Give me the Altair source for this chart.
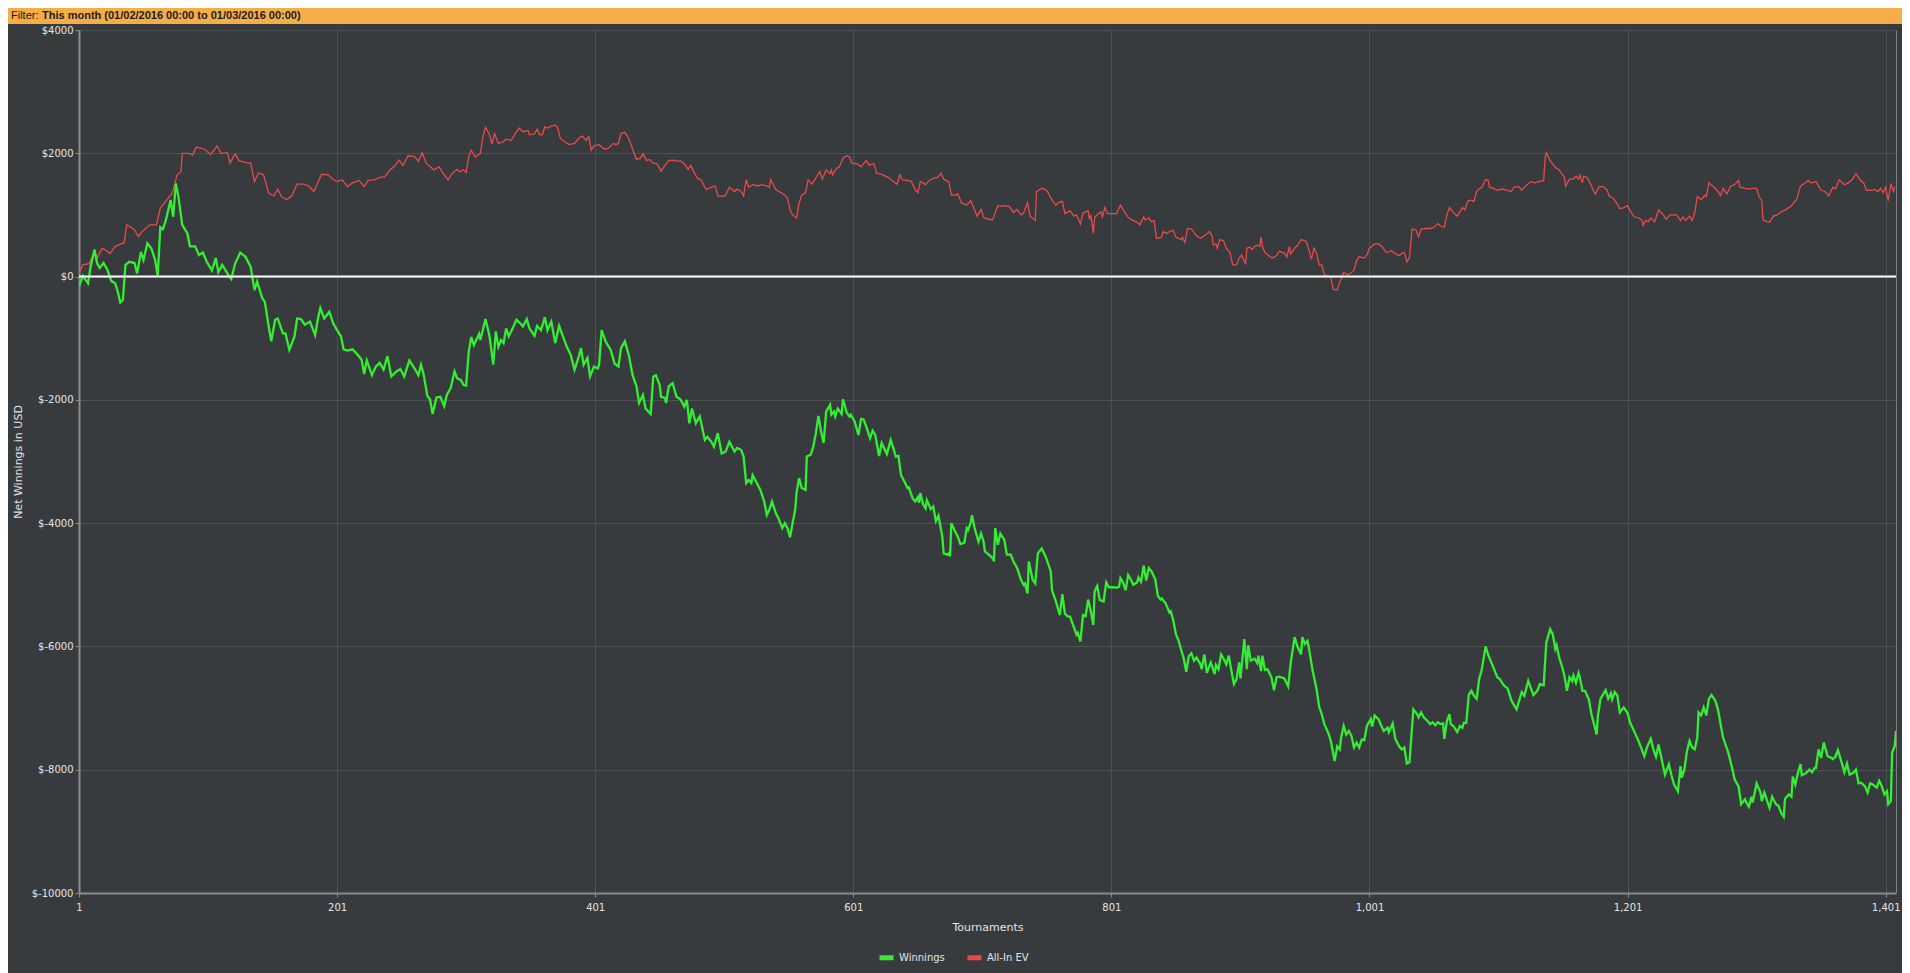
import altair as alt
import pandas as pd

# ---------------- data ----------------
series_names = ["Winnings", "All-In EV"]
series_colors = ["#33ee33", "#e84a4a"]

x_ticks = [1, 201, 401, 601, 801, 1001, 1201, 1401]
y_ticks = [-10000, -8000, -6000, -4000, -2000, 0, 2000, 4000]
x_domain = [1, 1409]
y_domain = [-10000, 4000]

banner_label = "Filter:"
banner_text = "This month (01/02/2016 00:00 to 01/03/2016 00:00)"

win_t = [1, 4, 8, 10, 13, 15, 17, 20, 23, 26, 29, 31, 33, 35, 37, 40, 44, 46, 49, 51, 54, 57, 60, 62, 64, 66, 68, 72, 74, 76, 78, 81, 85, 87, 91, 94, 97, 100, 104, 107, 109, 112, 116, 119, 122, 126, 130, 134, 137, 139, 143, 145, 148, 150, 153, 155, 159, 161, 164, 168, 170, 173, 176, 180, 184, 186, 188, 191, 195, 198, 201, 204, 206, 209, 213, 217, 220, 222, 224, 228, 231, 234, 237, 240, 243, 247, 250, 253, 257, 261, 264, 266, 268, 271, 273, 275, 278, 281, 284, 286, 289,
         292, 294, 297, 299, 301, 303, 305, 307, 311, 312, 316, 319, 322, 324, 326, 328, 330, 332, 334, 337, 340, 343, 345, 348, 350, 354, 356, 359, 362, 364, 367, 370, 373, 379, 382, 385, 388, 390, 392, 395, 397, 400, 403, 404, 406, 409, 413, 416, 419, 421, 424, 427, 430, 433, 435, 438, 440, 444, 446, 448, 451, 452, 455, 456, 458, 461, 464, 467, 470, 472, 474, 476, 479, 482, 486, 488, 491, 493, 496, 499, 502, 505, 509, 511, 514, 516, 518, 520, 522, 523, 527, 529, 532, 534, 536, 538, 541, 543, 546, 548, 550, 552, 554, 556, 557, 559, 561, 564, 565, 568, 570, 572, 574, 576, 578,
         580, 583, 584, 586, 587, 589, 592, 593, 596, 598, 599, 602, 605, 607, 609, 611, 614, 616, 618, 621, 623, 627, 630, 634, 636, 638, 640, 643, 644, 647, 649, 651, 652, 653, 655, 657, 658, 661, 663, 665, 667, 670, 671, 674, 675, 676, 677, 680, 682, 684, 687, 689, 690, 692, 693, 695, 698, 700, 702, 703, 706, 709, 710, 711, 713, 715, 718, 720, 723, 725, 728, 731, 733, 734, 736, 737, 740, 742, 744, 747, 750, 754, 755, 758, 761, 763, 765, 767, 769, 772, 774, 775, 777, 779, 781, 783, 785, 787, 788, 790, 792, 795, 797, 799, 803, 805, 807, 808, 810, 812, 814, 816, 818, 821, 822, 824, 826, 828, 830, 832, 835, 837, 839, 840, 843, 846, 847, 849, 851, 853, 855, 857,
         859, 861, 863, 865, 867, 870, 871, 873, 875, 878, 881, 882, 884, 886, 888, 890, 892, 894, 896, 898, 900, 901, 904, 906, 907, 909, 912, 914, 915, 917, 918, 920, 922, 925, 927, 929, 931, 935, 938, 940, 943, 945, 948, 949, 951, 953, 954, 957, 960, 962, 964, 966, 969, 971, 974, 976, 978, 979, 981, 983, 985, 987, 989, 991, 993, 995, 997, 999, 1002, 1003, 1005, 1008, 1010, 1012, 1015, 1016, 1019, 1021, 1024, 1026, 1028, 1030, 1032, 1035, 1038, 1039, 1041, 1043, 1046, 1048, 1050, 1052, 1054, 1056, 1058, 1059, 1061, 1063, 1064, 1066, 1069, 1071, 1073, 1074, 1076, 1078, 1080, 1082, 1084, 1086, 1088, 1091, 1093, 1097, 1100, 1102, 1105, 1108, 1111, 1115, 1117, 1119, 1121, 1124, 1128, 1131, 1133, 1136, 1138, 1141, 1143,
         1145, 1146, 1148, 1150, 1152, 1154, 1156, 1158, 1159, 1161, 1163, 1164, 1166, 1168, 1171, 1173, 1176, 1177, 1178, 1180, 1182, 1184, 1186, 1188, 1189, 1191, 1193, 1195, 1198, 1201, 1203, 1206, 1210, 1214, 1216, 1219, 1221, 1223, 1225, 1228, 1230, 1233, 1235, 1237, 1240, 1242, 1243, 1245, 1247, 1249, 1251, 1253, 1255, 1256, 1258, 1260, 1262, 1264, 1266, 1269, 1271, 1275, 1279, 1282, 1284, 1287, 1289, 1292, 1293, 1295, 1297, 1298, 1301, 1304, 1305, 1307, 1310, 1311, 1313, 1316, 1318, 1320, 1322, 1323, 1326, 1328, 1329, 1331, 1333, 1335, 1336, 1339, 1342, 1344, 1346, 1347, 1349, 1351, 1353, 1356, 1359, 1360, 1362, 1364, 1366, 1369, 1371, 1373, 1376, 1378, 1380, 1382, 1385, 1387, 1389, 1391, 1394, 1396, 1398, 1400, 1402, 1403, 1405, 1406, 1408, 1409]

win_v = [-160, 10, -110, 160, 440, 220, 140, 220, 110, -70, -110, -240, -420, -380, 190, 240, 220, 50, 400, 270, 540, 460, 270, 10, 800, 770, 890, 1240, 970, 1510, 1300, 840, 700, 490, 490, 350, 390, 240, 100, 300, 70, 190, 50, -40, 210, 390, 320, 160, -220, -80, -350, -410, -810, -1050, -700, -680, -920, -920, -1190, -970, -680, -690, -780, -730, -950, -700, -510, -680, -570, -760, -870, -970, -1180, -1200, -1180, -1270, -1350, -1580, -1360, -1600, -1460, -1400, -1510, -1290, -1620, -1540, -1500, -1620, -1360, -1490, -1600, -1430, -1580, -1940, -1990, -2230, -1960, -1950, -2100, -1920, -1810,
         -1540, -1650, -1680, -1760, -1770, -1220, -980, -1110, -930, -1030, -690, -950, -1430, -890, -1140, -1030, -1080, -840, -970, -840, -700, -760, -810, -690, -840, -960, -800, -870, -660, -870, -730, -1080, -800, -1140, -1270, -1510, -1320, -1160, -1430, -1320, -1620, -1460, -1490, -1430, -870, -1050, -1190, -1410, -1460, -1160, -1050, -1270, -1600, -1780, -2050, -1920, -2140, -2230, -1620, -1600, -1760, -1950, -1970, -2050, -1780, -1730, -1950, -1990, -2110, -2000, -2380, -2140, -2380, -2270, -2650, -2600, -2680, -2760, -2540, -2870, -2840, -2680, -2840, -2780, -2810, -2920, -3350, -3300, -3350, -3220, -3380, -3460, -3650, -3870, -3780, -3650, -3840, -3920, -4080, -4000, -4080, -4230, -4000, -3780, -3510, -3270, -3430, -3460, -2920, -2890, -2760, -2540, -2260, -2510, -2700,
         -2190, -2080, -2240, -2190, -2270, -2140, -2230, -1990, -2210, -2270, -2240, -2350, -2570, -2310, -2320, -2430, -2620, -2500, -2570, -2910, -2700, -2880, -2650, -2920, -2910, -3220, -3300, -3430, -3420, -3600, -3650, -3580, -3670, -3510, -3690, -3760, -3630, -3770, -3730, -3970, -3880, -4220, -4490, -4510, -4490, -4540, -4000, -4140, -4220, -4340, -4320, -4080, -4110, -3990, -3870, -4080, -4300, -4170, -4300, -4460, -4510, -4570, -4620, -4080, -4350, -4170, -4270, -4510, -4510, -4620, -4730, -4920, -5000, -4980, -5140, -4620, -4920, -4980, -4490, -4410, -4540, -4780, -5090, -5270, -5490, -5150, -5470, -5510, -5520, -5690, -5810, -5780, -5920, -5490, -5510, -5240, -5430, -5650, -5110, -5020, -5250, -5270, -4960, -5040, -5040, -5050, -5030, -4890, -4960, -5090, -4840, -4910, -5000, -4960, -4880, -4950, -4690, -4930, -4730, -4780, -4910, -5180, -5240, -5220, -5300, -5450, -5430, -5580, -5800, -5900, -6050, -6190,
         -6410, -6160, -6110, -6230, -6180, -6290, -6370, -6130, -6430, -6260, -6450, -6300, -6370, -6130, -6200, -6290, -6150, -6400, -6610, -6530, -6260, -6520, -5880, -6370, -5980, -6230, -6200, -6270, -6150, -6400, -6150, -6380, -6370, -6500, -6710, -6500, -6490, -6520, -6650, -6260, -5850, -5990, -6130, -5850, -5960, -5910, -6020, -6400, -6690, -6980, -7100, -7260, -7400, -7530, -7860, -7620, -7670, -7480, -7290, -7430, -7370, -7450, -7640, -7560, -7640, -7510, -7520, -7290, -7180, -7300, -7120, -7180, -7280, -7370, -7320, -7390, -7250, -7500, -7620, -7670, -7640, -7900, -7880, -7020, -7100, -7150, -7070, -7150, -7210, -7260, -7230, -7280, -7230, -7260, -7250, -7500, -7210, -7100, -7260, -7290, -7390, -7290, -7320, -7240, -7240, -6780, -6720, -6800, -6850, -6530, -6380, -6000, -6140, -6340, -6500, -6530, -6630, -6680, -6880, -7020, -6880, -6740, -6800, -6560, -6790, -6720, -6610, -6630, -5940, -5720, -5800,
         -6040, -5980, -6180, -6310, -6470, -6720, -6500, -6560, -6470, -6590, -6430, -6500, -6720, -6720, -6860, -7100, -7340, -7430, -7130, -6850, -6780, -6710, -6850, -6760, -6860, -6740, -6790, -7070, -6990, -7080, -7240, -7370, -7560, -7780, -7640, -7500, -7670, -7790, -7590, -7890, -8080, -7910, -8090, -8240, -8350, -7940, -8130, -8000, -7700, -7530, -7640, -7670, -7480, -7070, -7120, -6990, -7120, -6850, -6790, -6880, -7020, -7480, -7720, -7970, -8160, -8270, -8560, -8480, -8530, -8600, -8440, -8530, -8220, -8370, -8510, -8370, -8560, -8620, -8440, -8560, -8590, -8700, -8760, -8470, -8400, -8440, -8110, -8240, -8050, -7910, -8090, -8060, -8000, -8040, -7970, -7970, -7670, -7810, -7560, -7780, -7810, -7830, -7790, -7680, -7820, -8040, -7900, -8080, -8050, -8000, -8220, -8210, -8270, -8370, -8220, -8240, -8290, -8180, -8270, -8400, -8350, -8560, -8510, -7720, -7620, -7370]

ev_t = [1, 4, 9, 13, 15, 19, 23, 25, 29, 36, 38, 44, 47, 50, 56, 61, 64, 69, 73, 74, 77, 80, 81, 86, 89, 92, 98, 103, 108, 111, 116, 118, 122, 125, 130, 134, 137, 140, 144, 148, 152, 155, 158, 162, 166, 170, 175, 179, 183, 189, 194, 198, 201, 205, 209, 213, 218, 222, 225, 230, 234, 238, 242, 246, 249, 252, 256, 261, 264, 267, 270, 276, 280, 284,
        287, 290, 294, 296, 299, 301, 303, 305, 308, 312, 314, 316, 319, 321, 323, 326, 330, 332, 336, 339, 342, 345, 349, 350, 354, 356, 358, 360, 362, 364, 367, 370, 372, 374, 377, 381, 385, 389, 391, 394, 396, 398, 400, 404, 408, 411, 415, 417, 419, 421, 424, 427, 430, 433, 436, 438, 441, 443, 446, 449, 452, 455, 458, 461, 465, 467, 470, 473, 475, 480, 483, 487, 491, 494, 496, 500, 502, 505, 509, 511, 514, 516, 518, 520, 523, 527, 530, 534, 536, 537, 541, 545, 548, 550, 552, 554, 557, 559, 561, 564, 566, 569,
        572, 575, 577, 580, 583, 584, 585, 588, 590, 593, 596, 598, 600, 604, 607, 611, 613, 617, 619, 624, 628, 631, 635, 637, 639, 643, 646, 649, 651, 653, 655, 657, 660, 664, 666, 669, 671, 675, 677, 680, 682, 685, 689, 692, 695, 697, 700, 702, 706, 709, 711, 713, 715, 718, 722, 725, 728, 731, 733, 736, 738, 742, 743, 747, 750, 752, 755, 758, 760, 763, 765, 769, 772, 774, 777, 779, 781, 783, 784, 785, 787, 788, 791, 793, 794, 796, 798, 801, 805, 808, 810, 814, 817, 821, 823, 826, 827, 830, 832, 834, 836, 840, 841, 844, 846, 849, 851, 855, 856,
        858, 860, 863, 867, 870, 873, 877, 879, 880, 882, 883, 885, 888, 890, 893, 895, 898, 900, 902, 904, 905, 906, 908, 910, 912, 914, 916, 917, 918, 920, 924, 926, 929, 931, 935, 937, 939, 940, 943, 945, 948, 952, 954, 956, 958, 960, 962, 964, 966, 970, 971, 973, 976, 978, 979, 981, 984, 986, 989, 991, 993, 997, 999, 1001, 1005, 1008, 1011, 1014, 1018, 1021, 1024, 1027, 1028, 1030, 1032, 1034, 1037, 1039, 1041, 1045, 1048, 1051, 1054, 1056, 1059, 1061, 1063, 1066, 1069, 1071, 1073, 1075, 1077, 1080, 1082, 1084, 1086, 1088, 1091, 1093, 1094, 1097, 1100, 1104, 1108, 1111, 1113, 1117, 1119, 1122, 1126, 1129, 1132, 1136, 1137, 1138, 1141,
        1145, 1148, 1152, 1153, 1156, 1159, 1161, 1163, 1164, 1166, 1167, 1170, 1172, 1176, 1179, 1182, 1185, 1187, 1190, 1193, 1195, 1198, 1201, 1203, 1206, 1210, 1212, 1213, 1215, 1217, 1219, 1221, 1222, 1225, 1228, 1231, 1234, 1239, 1242, 1244, 1246, 1249, 1251, 1253, 1255, 1258, 1261, 1262, 1264, 1268, 1271, 1273, 1275, 1278, 1281, 1284, 1287, 1288, 1292, 1295, 1298, 1301, 1303, 1305, 1306, 1309, 1311, 1314, 1317, 1320, 1324, 1328, 1332, 1335, 1338, 1341, 1343, 1347, 1351, 1354, 1357, 1360, 1362, 1365, 1369, 1372, 1375, 1378, 1381, 1384, 1386, 1389, 1393, 1395, 1397, 1399, 1401, 1403, 1405, 1407, 1408]

ev_v = [50, 190, 210, 410, 300, 460, 410, 370, 490, 550, 840, 760, 650, 730, 840, 840, 1110, 1240, 1350, 1410, 1650, 1700, 2000, 2000, 1970, 2100, 2070, 1980, 2120, 2000, 2010, 1840, 1990, 1880, 1850, 1840, 1540, 1680, 1650, 1350, 1310, 1420, 1290, 1250, 1310, 1500, 1500, 1470, 1380, 1660, 1650, 1570, 1540, 1570, 1460, 1520, 1560, 1460, 1560, 1570, 1610, 1620, 1730, 1800, 1890, 1800, 1960, 1950, 1870, 2010, 1840, 1730, 1780, 1650,
        1570, 1670, 1740, 1700, 1730, 1690, 1950, 2050, 1940, 2000, 2270, 2420, 2310, 2150, 2320, 2160, 2190, 2230, 2210, 2320, 2410, 2350, 2370, 2300, 2320, 2390, 2300, 2300, 2430, 2410, 2440, 2460, 2410, 2240, 2190, 2140, 2160, 2260, 2280, 2210, 2270, 2050, 2120, 2140, 2070, 2080, 2160, 2140, 2160, 2320, 2340, 2240, 2070, 1900, 1920, 1990, 1880, 1900, 1840, 1830, 1710, 1800, 1880, 1890, 1870, 1880, 1830, 1740, 1800, 1600, 1570, 1410, 1450, 1470, 1310, 1300, 1320, 1450, 1380, 1420, 1380, 1310, 1570, 1450, 1490, 1470, 1490, 1470, 1450, 1570, 1410, 1360, 1320, 1270, 1080, 1000, 950, 1190, 1320, 1360, 1570, 1500,
        1600, 1700, 1580, 1730, 1670, 1730, 1650, 1760, 1770, 1920, 1960, 1940, 1840, 1830, 1780, 1880, 1810, 1830, 1680, 1650, 1610, 1560, 1500, 1650, 1570, 1560, 1540, 1410, 1360, 1540, 1520, 1490, 1560, 1600, 1600, 1680, 1580, 1540, 1320, 1320, 1340, 1190, 1160, 1230, 1080, 980, 1090, 960, 930, 920, 1040, 1150, 1140, 1150, 1140, 1040, 1090, 1000, 1030, 1200, 980, 910, 1380, 1430, 1410, 1360, 1240, 1160, 1200, 1220, 1020, 1070, 980, 1000, 850, 1030, 1050, 1070, 930, 1000, 700, 960, 1020, 1050, 970, 1120, 1020, 1020, 1020, 1160, 1090, 960, 920, 880, 840, 970, 920, 950, 890, 910, 620, 640, 730, 700, 730, 750, 640, 600, 640,
        550, 780, 770, 660, 620, 660, 730, 660, 510, 530, 460, 600, 580, 460, 380, 190, 190, 300, 350, 240, 210, 460, 480, 440, 490, 510, 490, 640, 490, 390, 320, 300, 340, 410, 380, 320, 490, 370, 460, 500, 600, 570, 440, 280, 460, 380, 190, 190, 30, 0, -10, -210, -220, -80, -50, 70, 30, 50, 100, 260, 320, 300, 350, 460, 530, 530, 480, 390, 420, 370, 340, 390, 390, 240, 310, 770, 760, 650, 770, 780, 780, 800, 860, 820, 800, 1000, 1120, 1040, 980, 1050, 1120, 1080, 1220, 1240, 1220, 1380, 1420, 1450, 1570, 1560, 1450, 1430, 1400, 1420, 1400, 1380, 1450, 1460, 1400, 1470, 1540, 1520, 1540, 1560, 1900, 2010, 1880,
        1770, 1730, 1610, 1470, 1580, 1580, 1630, 1580, 1650, 1520, 1630, 1600, 1510, 1340, 1460, 1460, 1410, 1300, 1270, 1180, 1100, 1120, 1150, 1070, 970, 950, 920, 830, 910, 890, 950, 910, 890, 1080, 1020, 930, 1000, 1000, 910, 970, 910, 980, 910, 1030, 1300, 1250, 1320, 1300, 1520, 1450, 1380, 1310, 1430, 1340, 1470, 1490, 1560, 1450, 1430, 1420, 1430, 1430, 1290, 1230, 920, 890, 880, 980, 1000, 1050, 1090, 1150, 1250, 1470, 1510, 1560, 1520, 1540, 1400, 1380, 1310, 1450, 1420, 1570, 1490, 1520, 1570, 1670, 1570, 1520, 1400, 1400, 1410, 1380, 1430, 1360, 1450, 1230, 1510, 1380, 1460]

# ---------------- tables ----------------
win_df = pd.DataFrame({"t": win_t, "v": win_v, "series": series_names[0]})
ev_df = pd.DataFrame({"t": ev_t, "v": ev_v, "series": series_names[1]})
one_row = pd.DataFrame({"k": [0]})

W, H = 1817, 863
PAD_L, PAD_T, PAD_R, PAD_B = 71, 22, 6, 80

BG = "#383b3e"
GRID = "#4d5155"
DOMAIN = "#8a8c8e"
TXT = "#e4e4e4"
FONT = "DejaVu Sans"

x_enc = alt.X(
    "t:Q",
    scale=alt.Scale(domain=x_domain, nice=False, zero=False),
    axis=alt.Axis(
        values=x_ticks, format=",d", title="Tournaments",
        labelFlush=False, labelPadding=5, titlePadding=9,
    ),
)
y_enc = alt.Y(
    "v:Q",
    scale=alt.Scale(domain=y_domain, nice=False, zero=False),
    axis=alt.Axis(
        values=y_ticks, labelExpr="'$' + datum.value",
        title="Net Winnings in USD", titleAngle=270, titleX=-61,
        titleY=H / 2, titleBaseline="middle", titleAlign="center",
        labelPadding=2,
    ),
)
color_enc = alt.Color(
    "series:N",
    scale=alt.Scale(domain=series_names, range=series_colors),
    legend=alt.Legend(
        orient="none", legendX=798, legendY=918, direction="horizontal",
        title=None, symbolType="stroke", symbolSize=196, symbolStrokeWidth=5,
        labelFont=FONT, labelFontSize=10, labelColor=TXT, columnPadding=12,
        labelOffset=3,
    ),
)

ev_line = alt.Chart(ev_df).mark_line(strokeWidth=1.3, clip=True).encode(
    x=x_enc, y=y_enc, color=color_enc
)
win_line = alt.Chart(win_df).mark_line(strokeWidth=2.3, clip=True).encode(
    x=x_enc, y=y_enc, color=color_enc
)
zero_rule = alt.Chart(one_row).mark_rule(color="#ffffff", strokeWidth=2).encode(
    y=alt.datum(0)
)

banner = alt.Chart(one_row).mark_rect(color="#f4ad47").encode(
    x=alt.value(-PAD_L), x2=alt.value(W + PAD_R),
    y=alt.value(-PAD_T), y2=alt.value(-6),
)
banner_a = alt.Chart(one_row).mark_text(
    text=banner_label, align="left", baseline="middle",
    font="Liberation Sans", fontSize=11, color="#1c1c1c",
).encode(x=alt.value(-68), y=alt.value(-14))
banner_b = alt.Chart(one_row).mark_text(
    text=banner_text, align="left", baseline="middle",
    font="Liberation Sans", fontSize=11, fontWeight="bold", color="#1c1c1c",
).encode(x=alt.value(-37), y=alt.value(-14))

chart = (
    alt.layer(ev_line, win_line, zero_rule, banner, banner_a, banner_b)
    .properties(
        width=W, height=H,
        padding={"left": PAD_L, "top": PAD_T, "right": PAD_R, "bottom": PAD_B},
        autosize=alt.AutoSizeParams(type="none"),
        background=BG,
    )
    .configure_view(stroke="#7d8084", strokeWidth=1, fill=BG)
    .configure_axis(
        labelFont=FONT, labelFontSize=10, labelColor=TXT,
        titleFont=FONT, titleFontSize=11, titleFontWeight="normal", titleColor=TXT,
        grid=True, gridColor=GRID, gridWidth=1,
        domainColor=DOMAIN, domainWidth=2,
        tickColor=DOMAIN, tickSize=4,
    )
)

chart.save("out.html", embed_options={"renderer": "svg", "actions": False})
